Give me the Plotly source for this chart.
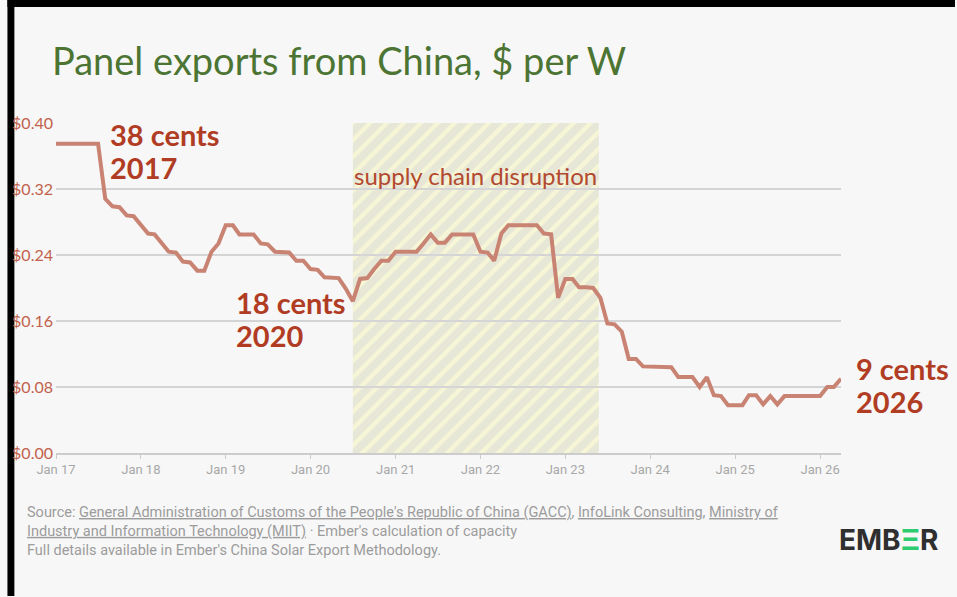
import plotly.graph_objects as go
import pandas as pd

# Monthly export price of solar panels shipped from China, US$ per watt
months = pd.date_range("2017-01-01", "2026-04-01", freq="MS")

usd_per_w_2017 = [0.375, 0.375, 0.375, 0.375, 0.375, 0.375, 0.375, 0.308, 0.299, 0.298, 0.288, 0.287]
usd_per_w_2018 = [0.277, 0.266, 0.265, 0.254, 0.244, 0.243, 0.232, 0.231, 0.221, 0.221, 0.244, 0.254]
usd_per_w_2019 = [0.276, 0.276, 0.265, 0.265, 0.265, 0.254, 0.253, 0.244, 0.243, 0.243, 0.233, 0.233]
usd_per_w_2020 = [0.223, 0.222, 0.213, 0.213, 0.212, 0.199, 0.184, 0.211, 0.212, 0.223, 0.233, 0.233]
usd_per_w_2021 = [0.244, 0.244, 0.244, 0.244, 0.254, 0.265, 0.255, 0.255, 0.265, 0.265, 0.265, 0.265]
usd_per_w_2022 = [0.244, 0.243, 0.233, 0.266, 0.276, 0.276, 0.276, 0.276, 0.276, 0.266, 0.265, 0.188]
usd_per_w_2023 = [0.211, 0.211, 0.201, 0.201, 0.200, 0.188, 0.157, 0.156, 0.147, 0.114, 0.114, 0.105]
usd_per_w_2024 = [0.105, 0.105, 0.104, 0.104, 0.092, 0.092, 0.092, 0.080, 0.092, 0.070, 0.069, 0.058]
usd_per_w_2025 = [0.058, 0.058, 0.070, 0.070, 0.059, 0.069, 0.059, 0.069, 0.069, 0.069, 0.069, 0.069]
usd_per_w_2026 = [0.069, 0.080, 0.080, 0.090]

price = (usd_per_w_2017 + usd_per_w_2018 + usd_per_w_2019 + usd_per_w_2020 + usd_per_w_2021
         + usd_per_w_2022 + usd_per_w_2023 + usd_per_w_2024 + usd_per_w_2025 + usd_per_w_2026)

# Supply chain disruption period
disruption_start = "2020-07-01"
disruption_end = "2023-05-25"
disruption_label = "supply chain disruption"

y_ticks = [0.0, 0.08, 0.16, 0.24, 0.32, 0.40]

title_text = "Panel exports from China, $ per W"
source_text = (
    "Source: <u>General Administration of Customs of the People's Republic of China (GACC)</u>, "
    "<u>InfoLink Consulting</u>, <u>Ministry of</u><br>"
    "<u>Industry and Information Technology (MIIT)</u> · Ember's calculation of capacity<br>"
    "Full details available in Ember's China Solar Export Methodology."
)

# ---- layout geometry (pixels) ----
W, H = 957, 597
ML, MR, MT, MB = 49, 116, 123, 144
PW, PH = W - ML - MR, H - MT - MB


def paper_x(px):
    return (px - ML) / PW


def paper_y(py):
    return (H - MB - py) / PH


BG = "#f7f7f7"
RED = "#b13c24"
LINE = "#c98373"

fig = go.Figure()

# dark frame strips along the top and left edges
fig.add_shape(type="rect", xref="paper", yref="paper",
              x0=paper_x(0), x1=paper_x(7), y0=paper_y(H - 1), y1=paper_y(0),
              fillcolor="#000000", line_width=0, layer="below")
fig.add_shape(type="rect", xref="paper", yref="paper",
              x0=paper_x(0), x1=paper_x(W - 1), y0=paper_y(7), y1=paper_y(0),
              fillcolor="#000000", line_width=0, layer="below")

# pale yellow band beneath the gridlines
fig.add_shape(type="rect", xref="x", yref="y",
              x0=disruption_start, x1=disruption_end, y0=0, y1=0.40,
              fillcolor="#f6f6d6", line_width=0, layer="below")

# grey diagonal hatching on the band
fig.add_trace(go.Scatter(
    x=[disruption_start, disruption_start, disruption_end, disruption_end, disruption_start],
    y=[0, 0.40, 0.40, 0, 0],
    mode="none", fill="toself", fillcolor="rgba(0,0,0,0)",
    fillpattern=dict(shape="/", bgcolor="rgba(0,0,0,0)", fgcolor="#d8d8d8",
                     size=12, solidity=0.65),
    hoverinfo="skip", showlegend=False,
))

fig.add_trace(go.Scatter(
    x=months, y=price, mode="lines",
    line=dict(color=LINE, width=4),
    showlegend=False,
))

callout_font = dict(family="Lato", size=29, color=RED)


def callout(text, x, y, xshift=0):
    return dict(text=f"<b>{text}</b>", x=x, y=y, xref="x", yref="y",
                xanchor="left", yanchor="middle", align="left", showarrow=False,
                xshift=xshift, font=callout_font)


annotations = [
    dict(text=disruption_label, x="2021-12-12", y=0.336, xref="x", yref="y",
         xanchor="center", yanchor="middle", showarrow=False,
         font=dict(family="Lato", size=24, color="#b3492e")),
    callout("38 cents", "2017-08-14", 0.3855),
    callout("2017", "2017-08-14", 0.3455),
    callout("18 cents", "2019-02-04", 0.183),
    callout("2020", "2019-02-04", 0.143),
    callout("9 cents", months[-1], 0.102, xshift=13),
    callout("2026", months[-1], 0.063, xshift=13),
    dict(text="<b>EMB<span style='color:#2ecc71'>Ξ</span>R</b>",
         x=paper_x(889), y=paper_y(540), xref="paper", yref="paper",
         xanchor="center", yanchor="middle", showarrow=False,
         font=dict(family="Inter", size=28, color="#2f2f2f")),
    dict(text=source_text, x=paper_x(18), y=paper_y(531), xref="paper", yref="paper",
         xanchor="left", yanchor="middle", align="left", showarrow=False,
         font=dict(family="Roboto", size=14.5, color="#9c9c9c")),
]

fig.update_layout(
    width=W, height=H,
    margin=dict(l=ML, r=MR, t=MT, b=MB),
    paper_bgcolor=BG, plot_bgcolor=BG,
    showlegend=False,
    title=dict(text=title_text, xref="container", yref="container",
               x=52 / W, xanchor="left", y=1 - 62 / H, yanchor="middle",
               font=dict(family="Lato", size=38, color="#4c7433")),
    annotations=annotations,
    xaxis=dict(
        type="date", range=[months[0], months[-1]],
        tick0="2017-01-01", dtick="M12", tickformat="%b %y",
        showgrid=False, zeroline=False,
        showline=True, linecolor="#cccccc", linewidth=1.5,
        ticks="outside", ticklen=4, tickcolor="#cccccc", tickwidth=1,
        tickfont=dict(family="Roboto", size=13, color="#a8a8a8"),
    ),
    yaxis=dict(
        range=[0, 0.40], tickvals=y_ticks, tickformat="$.2f",
        showgrid=True, gridcolor="#d4d4d4", gridwidth=1.5,
        zeroline=False, showline=False, ticks="",
        ticklabelstandoff=2,
        tickfont=dict(family="Lato", size=16, color="#c2614b"),
    ),
)

fig.write_html("out.html")
